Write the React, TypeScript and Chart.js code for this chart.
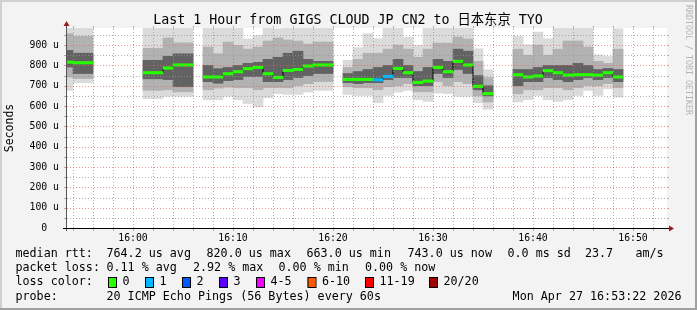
import { useEffect, useRef } from 'react';
import { Chart, registerables } from 'chart.js';

Chart.register(...registerables);

const W = 697;
const H = 310;
const FONT = '"DejaVu Sans Mono", "Noto Sans CJK SC", monospace';

// slot start, minutes relative to 16:00 (each sample covers one minute)
const minutes = [-7, -6, -5, -4, -3, -2, -1, 0, 1, 2, 3, 4, 5, 6, 7, 8, 9, 10, 11, 12, 13, 14, 15, 16, 17, 18, 19, 20, 21, 22, 23, 24, 25, 26, 27, 28, 29, 30, 31, 32, 33, 34, 35, 36, 37, 38, 39, 40, 41, 42, 43, 44, 45, 46, 47, 48, 49, 50, 51, 52];

const N = null;
// median RTT (microseconds)
const median = [816, 813, 813, N, N, N, N, N, 764, 764, 787, 802, 802, N, 743, 743, 759, 769, 784, 790, 759, 741, 775, 780, 797, 802, 802, N, 731, 731, 731, 729, 746, 785, 764, 716, 723, 790, 769, 820, 802, 697, 661, N, N, 754, 743, 748, 774, 764, 752, 754, 754, 752, 764, 743, N, N, N, N];
// smoke: outer (min..max), middle, inner bands
const smokeMax = [990, 990, 990, N, N, N, N, N, 990, 990, 990, 990, 990, N, 990, 990, 990, 990, 930, 947, 990, 980, 990, 990, 990, 990, 990, N, 825, 887, 956, 931, 990, 990, 939, 898, 990, 990, 990, 990, 990, 882, 779, N, N, 943, 902, 964, 931, 990, 990, 990, 990, 852, 844, 980, N, N, N, N];
const smokeHiB = [956, 943, 943, N, N, N, N, N, 884, 884, 935, 911, 911, N, 890, 857, 915, 898, 880, 890, 920, 935, 925, 920, 905, 915, 915, N, 790, 830, 860, 860, 880, 900, 880, 840, 880, 910, 910, 940, 930, 820, 740, N, N, 880, 850, 900, 850, 880, 920, 920, 890, 820, 810, 880, N, N, N, N];
const smokeHiC = [874, 860, 860, N, N, N, N, N, 825, 825, 845, 857, 857, N, 800, 784, 790, 800, 810, 815, 830, 840, 860, 870, 830, 820, 820, N, 760, 770, 780, 790, 800, 830, 800, 770, 790, 830, 820, 880, 870, 750, 700, N, N, 780, 780, 790, 800, 800, 800, 810, 800, 780, 785, 780, N, N, N, N];
const smokeLoC = [792, 760, 760, N, N, N, N, N, 734, 734, 730, 695, 695, N, 720, 712, 725, 730, 745, 745, 720, 720, 730, 740, 750, 760, 760, N, 715, 710, 715, 715, 730, 740, 740, 700, 700, 760, 740, 780, 760, 680, 650, N, N, 700, 720, 720, 740, 730, 720, 730, 740, 730, 740, 720, N, N, N, N];
const smokeLoB = [743, 735, 735, N, N, N, N, N, 677, 677, 680, 670, 670, N, 680, 688, 693, 690, 690, 680, 690, 690, 690, 700, 710, 720, 720, N, 695, 690, 690, 680, 695, 700, 710, 670, 670, 720, 700, 720, 710, 650, 620, N, N, 660, 680, 680, 690, 690, 680, 690, 700, 700, 710, 690, N, N, N, N];
const smokeMin = [677, 715, 715, N, N, N, N, N, 636, 636, 648, 648, 648, N, 631, 631, 648, 631, 612, 596, 641, 661, 657, 657, 669, 677, 677, N, 657, 652, 652, 616, 652, 669, 677, 631, 623, 664, 661, 648, 648, 616, 584, N, N, 620, 631, 652, 631, 623, 631, 652, 677, 652, 685, 644, N, N, N, N];
// lost pings per sample (index into lossColors)
const loss = [0, 0, 0, 0, 0, 0, 0, 0, 0, 0, 0, 0, 0, 0, 0, 0, 0, 0, 0, 0, 0, 0, 0, 0, 0, 0, 0, 0, 0, 0, 0, 1, 1, 0, 0, 0, 0, 0, 0, 0, 0, 0, 0, 0, 0, 0, 0, 0, 0, 0, 0, 0, 0, 0, 0, 0, 0, 0, 0, 0];

const xTickValues = [0, 10, 20, 30, 40, 50];
const xTickLabels = ['16:00', '16:10', '16:20', '16:30', '16:40', '16:50'];
const yTickValues = [0, 100, 200, 300, 400, 500, 600, 700, 800, 900];
const yTickLabels = ['0  ', '100 u', '200 u', '300 u', '400 u', '500 u', '600 u', '700 u', '800 u', '900 u'];

const lossColors = ['#26ff00', '#00b8ff', '#0059ff', '#5e00ff', '#f000ff', '#ff5a00', '#ff0000', '#a00000'];
const lossLabels = ['0', '1', '2', '3', '4-5', '6-10', '11-19', '20/20'];

const title = 'Last 1 Hour from GIGS CLOUD JP CN2 to 日本东京 TYO';
const rttTexts = ['median rtt:', '764.2 us avg', '820.0 us max', '663.0 us min', '743.0 us now', '0.0 ms sd', '23.7', 'am/s'];
const lossTexts = ['packet loss:', '0.11 % avg', '2.92 % max', '0.00 % min', '0.00 % now'];
const probeTexts = ['probe:', '20 ICMP Echo Pings (56 Bytes) every 60s'];
const dateText = 'Mon Apr 27 16:53:22 2026';

// layout (pixels)
const rttX = [15.5, 106.5, 206.5, 306.5, 407.5, 507.5, 585, 635.5];
const lossX = [15.5, 106.5, 193, 278.5, 365];
const probeX = [15.5, 106.5];
const boxX = [108, 145, 182, 219, 256, 307.5, 365, 429];
const rowY = [254, 268, 282, 296.5];
const MED_HALF = 6;

function bandPts(lo: (number | null)[], hi: (number | null)[]) {
  const out: any[] = [];
  minutes.forEach((m, i) => {
    if (lo[i] != null && hi[i] != null) out.push({ x: m + 0.5, y: [lo[i], hi[i]] });
  });
  return out;
}

const rrdPlugin = {
  id: 'rrd',
  beforeDraw(chart: any) {
    const { ctx, chartArea: a } = chart;
    ctx.save();
    ctx.fillStyle = '#f3f3f3';
    ctx.fillRect(0, 0, W, H);
    ctx.fillStyle = '#d0d0d0';
    ctx.fillRect(0, 0, W, 2);
    ctx.fillRect(0, 0, 2, H);
    ctx.fillStyle = '#a0a0a0';
    ctx.fillRect(0, H - 2, W, 2);
    ctx.fillRect(W - 2, 0, 2, H);
    ctx.fillStyle = '#ffffff';
    ctx.fillRect(a.left, a.top, a.right - a.left, a.bottom - a.top);
    ctx.restore();
  },
  afterDatasetsDraw(chart: any) {
    const { ctx, chartArea: a, scales } = chart;
    const xs = scales.x;
    const ys = scales.y;
    const minor = 'rgba(150,150,150,0.75)';
    const major = 'rgba(235,90,90,0.65)';
    ctx.save();
    ctx.lineWidth = 1;
    ctx.setLineDash([1, 2]);
    for (let v = -6; v <= 52; v += 2) {
      const px = Math.round(xs.getPixelForValue(v)) + 0.5;
      if (px < a.left || px > a.right) continue;
      ctx.strokeStyle = v % 10 === 0 ? major : minor;
      ctx.beginPath();
      ctx.moveTo(px, a.bottom);
      ctx.lineTo(px, a.top);
      ctx.stroke();
    }
    for (let v = 50; v <= 950; v += 50) {
      const py = Math.round(ys.getPixelForValue(v)) + 0.5;
      ctx.strokeStyle = v % 100 === 0 ? major : minor;
      ctx.beginPath();
      ctx.moveTo(a.left, py);
      ctx.lineTo(a.right, py);
      ctx.stroke();
    }
    ctx.setLineDash([]);
    // small tick marks on the axes
    for (let v = 50; v <= 950; v += 50) {
      const py = Math.round(ys.getPixelForValue(v)) + 0.5;
      ctx.strokeStyle = v % 100 === 0 ? major : minor;
      ctx.beginPath();
      ctx.moveTo(a.left - 3, py);
      ctx.lineTo(a.left, py);
      ctx.moveTo(a.right, py);
      ctx.lineTo(a.right + 2, py);
      ctx.stroke();
    }
    for (let v = -6; v <= 52; v += 2) {
      const px = Math.round(xs.getPixelForValue(v)) + 0.5;
      if (px < a.left || px > a.right) continue;
      ctx.strokeStyle = v % 10 === 0 ? major : minor;
      ctx.beginPath();
      ctx.moveTo(px, a.bottom);
      ctx.lineTo(px, a.bottom + 3);
      ctx.moveTo(px, a.top - 2);
      ctx.lineTo(px, a.top);
      ctx.stroke();
    }
    ctx.restore();
  },
  afterDraw(chart: any) {
    const { ctx, chartArea: a } = chart;
    ctx.save();
    // axes
    ctx.lineWidth = 1;
    ctx.strokeStyle = '#555555';
    ctx.beginPath();
    ctx.moveTo(a.left - 0.5, a.bottom + 3);
    ctx.lineTo(a.left - 0.5, a.top - 4);
    ctx.stroke();
    ctx.strokeStyle = '#000000';
    ctx.beginPath();
    ctx.moveTo(a.left - 4, a.bottom + 0.5);
    ctx.lineTo(a.right + 4, a.bottom + 0.5);
    ctx.stroke();
    ctx.fillStyle = '#9b1c1c';
    ctx.beginPath();
    ctx.moveTo(a.left - 3.5, a.top - 2);
    ctx.lineTo(a.left + 2.5, a.top - 2);
    ctx.lineTo(a.left - 0.5, a.top - 7);
    ctx.closePath();
    ctx.fill();
    ctx.beginPath();
    ctx.moveTo(a.right + 2, a.bottom - 2.5);
    ctx.lineTo(a.right + 2, a.bottom + 3.5);
    ctx.lineTo(a.right + 7, a.bottom + 0.5);
    ctx.closePath();
    ctx.fill();

    // title
    ctx.fillStyle = '#000000';
    ctx.font = `13.3px ${FONT}`;
    ctx.textAlign = 'center';
    ctx.textBaseline = 'middle';
    ctx.fillText(title, 348, 20.5);

    // unit label
    ctx.save();
    ctx.font = `11.5px ${FONT}`;
    ctx.translate(10.5, (a.top + a.bottom) / 2);
    ctx.rotate(-Math.PI / 2);
    ctx.fillText('Seconds', 0, 0);
    ctx.restore();

    // watermark
    ctx.save();
    ctx.font = `8.3px ${FONT}`;
    ctx.fillStyle = '#b4b4b4';
    ctx.translate(688.5, 5);
    ctx.rotate(Math.PI / 2);
    ctx.textAlign = 'left';
    ctx.fillText('RRDTOOL / TOBI OETIKER', 0, 0);
    ctx.restore();

    // legend
    ctx.font = `11.7px ${FONT}`;
    ctx.textAlign = 'left';
    ctx.textBaseline = 'middle';
    ctx.fillStyle = '#000000';
    rttTexts.forEach((t, i) => ctx.fillText(t, rttX[i], rowY[0]));
    lossTexts.forEach((t, i) => ctx.fillText(t, lossX[i], rowY[1]));
    ctx.fillText('loss color:', 15.5, rowY[2]);
    lossLabels.forEach((t, i) => {
      ctx.fillStyle = lossColors[i];
      ctx.fillRect(boxX[i], rowY[2] - 5, 8, 10);
      ctx.strokeStyle = '#000000';
      ctx.strokeRect(boxX[i] + 0.5, rowY[2] - 4.5, 8, 10);
      ctx.fillStyle = '#000000';
      ctx.fillText(t, boxX[i] + 14.5, rowY[2]);
    });
    probeTexts.forEach((t, i) => ctx.fillText(t, probeX[i], rowY[3]));
    ctx.textAlign = 'right';
    ctx.fillText(dateText, 681.5, rowY[3]);
    ctx.restore();
  },
};

export default function App() {
  const ref = useRef<HTMLCanvasElement>(null);
  useEffect(() => {
    document.body.style.margin = '0';
    const canvas = ref.current;
    if (!canvas) return;

    const medPts: any[] = [];
    minutes.forEach((m, i) => {
      const v = median[i];
      if (v != null) medPts.push({ x: m + 0.5, y: [v - MED_HALF, v + MED_HALF], loss: loss[i] });
    });
    const linePts = minutes.map((m, i) => ({ x: m + 0.5, y: median[i] }));

    const barCommon = {
      type: 'bar',
      barPercentage: 1,
      categoryPercentage: 1,
      grouped: false,
      borderWidth: 0,
      borderSkipped: false,
      clip: 0,
    };

    const chart = new Chart(canvas, {
      type: 'bar',
      data: {
        datasets: [
          { ...barCommon, data: bandPts(smokeMin, smokeMax), backgroundColor: '#dbdbdb', order: 5 },
          { ...barCommon, data: bandPts(smokeLoB, smokeHiB), backgroundColor: '#b2b2b2', order: 4 },
          { ...barCommon, data: bandPts(smokeLoC, smokeHiC), backgroundColor: '#626262', order: 3 },
          {
            type: 'line',
            data: linePts,
            borderColor: '#000000',
            borderWidth: 1,
            pointRadius: 0,
            stepped: 'middle',
            spanGaps: false,
            clip: 0,
            order: 2,
          },
          {
            ...barCommon,
            data: medPts,
            backgroundColor: (c: any) => lossColors[(c.raw && c.raw.loss) || 0],
            order: 1,
          },
        ] as any,
      },
      options: {
        animation: false,
        responsive: false,
        maintainAspectRatio: false,
        events: [],
        layout: { padding: { top: 28, right: 30, bottom: 0, left: 0 } },
        plugins: {
          legend: { display: false },
          tooltip: { enabled: false },
          title: { display: false },
        },
        scales: {
          x: {
            type: 'linear',
            min: -6.6,
            max: 53.4,
            offset: false,
            grid: { display: false, drawTicks: false },
            border: { display: false },
            afterBuildTicks: (s: any) => {
              s.ticks = xTickValues.map((v) => ({ value: v }));
            },
            afterFit: (s: any) => {
              s.height = 82;
            },
            ticks: {
              padding: 5,
              maxRotation: 0,
              autoSkip: false,
              color: '#000000',
              font: { family: FONT, size: 9.8 },
              callback: (v: any) => xTickLabels[xTickValues.indexOf(Number(v))] ?? '',
            },
          },
          y: {
            type: 'linear',
            min: 0,
            max: 984,
            grid: { display: false, drawTicks: false },
            border: { display: false },
            afterBuildTicks: (s: any) => {
              s.ticks = yTickValues.map((v) => ({ value: v }));
            },
            afterFit: (s: any) => {
              s.width = 67;
            },
            ticks: {
              padding: 8,
              autoSkip: false,
              color: '#000000',
              font: { family: FONT, size: 9.8 },
              callback: (v: any) => yTickLabels[yTickValues.indexOf(Number(v))] ?? '',
            },
          },
        },
      },
      plugins: [rrdPlugin],
    } as any);
    return () => chart.destroy();
  }, []);

  return (
    <div style={{ position: 'absolute', left: 0, top: 0, width: W, height: H }}>
      <canvas ref={ref} width={W} height={H} style={{ display: 'block', width: W, height: H }} />
    </div>
  );
}
